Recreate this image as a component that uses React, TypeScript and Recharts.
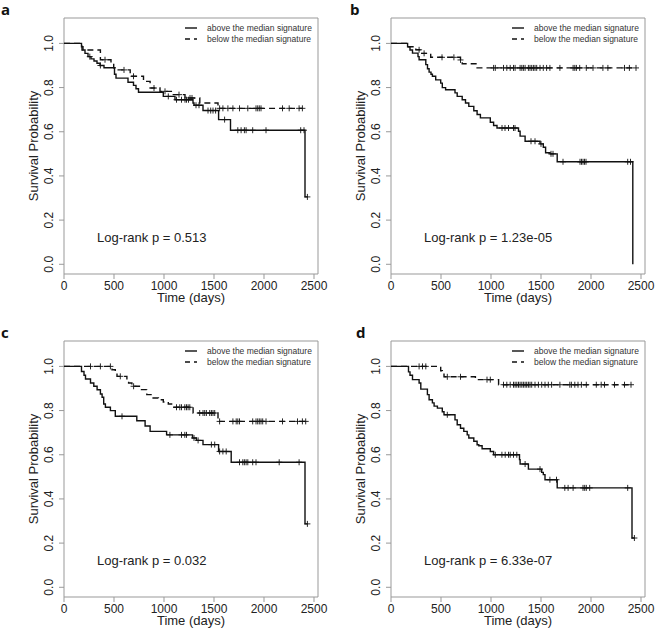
import React from 'react';
import { ComposedChart, Line, Scatter, XAxis, YAxis, ReferenceArea } from 'recharts';

const X_TICKS = [0, 500, 1000, 1500, 2000, 2500];
const Y_TICKS = [0, 0.2, 0.4, 0.6, 0.8, 1.0];
const LEGEND_LABELS = ['above the median signature', 'below the median signature'];
const PANEL_LETTERS = ['a', 'b', 'c', 'd'];
const P_VALUES = ['0.513', '1.23e-05', '0.032', '6.33e-07'];

// panel a
const aAboveTime = [0, 175, 190, 210, 240, 270, 300, 330, 360, 400, 505, 520, 640, 695, 720, 745, 993, 1110, 1290, 1300, 1390, 1546, 1665, 2410, 2434];
const aAboveSurv = [1, 0.985, 0.97, 0.955, 0.94, 0.93, 0.92, 0.91, 0.9, 0.89, 0.86, 0.843, 0.824, 0.81, 0.795, 0.779, 0.76, 0.745, 0.73, 0.72, 0.696, 0.655, 0.607, 0.305, 0.305];
const aAboveCens = [258, 364, 1043, 1125, 1175, 1210, 1225, 1245, 1320, 1350, 1440, 1467, 1490, 1516, 1606, 1738, 1771, 1804, 1821, 1887, 2020, 2367, 2400, 2434];
const aBelowTime = [0, 180, 364, 470, 497, 520, 662, 795, 861, 960, 1093, 1210, 1358, 1540, 2384];
const aBelowSurv = [1, 0.97, 0.926, 0.905, 0.89, 0.88, 0.851, 0.828, 0.798, 0.783, 0.768, 0.753, 0.73, 0.706, 0.706];
const aBelowCens = [410, 600, 695, 900, 1010, 1150, 1260, 1280, 1556, 1589, 1639, 1689, 1755, 1838, 1920, 1937, 1953, 1970, 2185, 2252, 2351, 2384];

// panel b
const bAboveTime = [0, 166, 190, 215, 270, 281, 348, 365, 381, 400, 414, 447, 497, 513, 546, 640, 662, 712, 745, 778, 828, 861, 894, 993, 1026, 1060, 1275, 1291, 1341, 1490, 1523, 1546, 1590, 1662, 2418];
const bAboveSurv = [1, 0.985, 0.97, 0.956, 0.94, 0.926, 0.904, 0.885, 0.87, 0.86, 0.851, 0.835, 0.82, 0.8, 0.79, 0.776, 0.76, 0.745, 0.73, 0.715, 0.695, 0.678, 0.663, 0.643, 0.628, 0.617, 0.602, 0.58, 0.557, 0.545, 0.53, 0.505, 0.5, 0.464, 0];
const bAboveCens = [1110, 1140, 1175, 1225, 1240, 1400, 1440, 1500, 1600, 1620, 1720, 1890, 1905, 1920, 1935, 1950, 2367, 2395];
const bBelowTime = [0, 166, 248, 300, 397, 695, 712, 861, 2450];
const bBelowSurv = [1, 0.985, 0.971, 0.955, 0.937, 0.925, 0.908, 0.889, 0.889];
const bBelowCens = [281, 331, 510, 629, 695, 1026, 1043, 1125, 1158, 1192, 1225, 1241, 1291, 1308, 1324, 1341, 1374, 1390, 1407, 1424, 1440, 1457, 1490, 1523, 1556, 1589, 1689, 1821, 1838, 1854, 1887, 1953, 2020, 2119, 2169, 2335, 2384, 2450];

// panel c
const cAboveTime = [0, 175, 200, 215, 265, 298, 331, 364, 381, 397, 414, 464, 513, 728, 811, 861, 1026, 1285, 1324, 1390, 1546, 1672, 2410, 2434];
const cAboveSurv = [1, 0.977, 0.96, 0.943, 0.925, 0.91, 0.894, 0.875, 0.86, 0.83, 0.815, 0.8, 0.774, 0.754, 0.73, 0.706, 0.69, 0.676, 0.665, 0.646, 0.615, 0.566, 0.287, 0.287];
const cAboveCens = [580, 1059, 1175, 1208, 1225, 1300, 1341, 1474, 1507, 1556, 1589, 1622, 1755, 1788, 1804, 1821, 1838, 1887, 1920, 2152, 2351, 2434];
const cBelowTime = [0, 480, 513, 530, 629, 646, 679, 762, 828, 878, 944, 993, 1043, 1076, 1291, 1540, 2417];
const cBelowSurv = [1, 0.985, 0.97, 0.955, 0.94, 0.925, 0.91, 0.895, 0.872, 0.857, 0.849, 0.839, 0.83, 0.815, 0.789, 0.751, 0.751];
const cBelowCens = [265, 364, 464, 563, 696, 1125, 1158, 1175, 1208, 1225, 1241, 1258, 1357, 1390, 1407, 1424, 1457, 1474, 1490, 1507, 1556, 1689, 1722, 1738, 1755, 1887, 1920, 1937, 1953, 1970, 1987, 2020, 2185, 2335, 2384, 2417];

// panel d
const dAboveTime = [0, 175, 190, 215, 281, 298, 364, 381, 414, 431, 464, 513, 530, 640, 662, 695, 728, 762, 778, 828, 861, 878, 911, 993, 1026, 1285, 1291, 1374, 1507, 1523, 1540, 1662, 2410, 2434];
const dAboveSurv = [1, 0.975, 0.96, 0.94, 0.925, 0.897, 0.872, 0.849, 0.835, 0.82, 0.811, 0.795, 0.781, 0.758, 0.736, 0.72, 0.706, 0.69, 0.676, 0.661, 0.645, 0.641, 0.627, 0.615, 0.6, 0.578, 0.558, 0.535, 0.52, 0.51, 0.487, 0.45, 0.223, 0.223];
const dAboveCens = [563, 1043, 1109, 1142, 1175, 1192, 1225, 1258, 1341, 1490, 1589, 1655, 1738, 1771, 1821, 1920, 1937, 1953, 1987, 2367, 2434];
const dBelowTime = [0, 497, 513, 530, 844, 1076, 2400];
const dBelowSurv = [1, 0.98, 0.97, 0.953, 0.94, 0.917, 0.917];
const dBelowCens = [281, 315, 348, 563, 695, 960, 993, 1125, 1158, 1192, 1225, 1241, 1258, 1275, 1291, 1308, 1324, 1341, 1357, 1374, 1390, 1407, 1440, 1474, 1507, 1540, 1573, 1606, 1689, 1788, 1804, 1838, 1870, 1904, 1953, 2053, 2102, 2135, 2235, 2335, 2400];

const FONT = '"Liberation Sans", Arial, sans-serif';
const W = 329;
const H = 318;
const PLOT_LEFT = 64;
const PLOT_TOP = 18;
const PLOT_RIGHT = 318;
const PLOT_BOTTOM = 274;

type Pt = { x: number; y: number };

const toSteps = (t: number[], s: number[]): Pt[] => t.map((x, i) => ({ x, y: s[i] }));

// survival value of the step curve at a given time
const survAt = (t: number[], s: number[], time: number) => {
  let v = s[0];
  for (let i = 0; i < t.length; i++) if (t[i] <= time) v = s[i];
  return v;
};

const censorPts = (t: number[], s: number[], c: number[]): Pt[] => c.map((x) => ({ x, y: survAt(t, s, x) }));

const Cross = (props: any) => {
  const { cx, cy } = props;
  if (cx == null || cy == null) return null;
  return (
    <g stroke="#111" strokeWidth={0.9}>
      <line x1={cx} x2={cx} y1={cy - 3} y2={cy + 3} />
      <line x1={cx - 3} x2={cx + 3} y1={cy} y2={cy} />
    </g>
  );
};

const YTick = (props: any) => {
  const { x, y, payload } = props;
  return (
    <text x={x} y={y} transform={`rotate(-90 ${x} ${y})`} textAnchor="middle" fontSize={12} fill="#222" fontFamily={FONT}>
      {Number(payload.value).toFixed(1)}
    </text>
  );
};

interface PanelProps {
  left: number;
  top: number;
  letter: string;
  letterX: number;
  pValue: string;
  aboveT: number[];
  aboveS: number[];
  aboveC: number[];
  belowT: number[];
  belowS: number[];
  belowC: number[];
}

const KmPanel = ({ left, top, letter, letterX, pValue, aboveT, aboveS, aboveC, belowT, belowS, belowC }: PanelProps) => {
  const above = toSteps(aboveT, aboveS);
  const below = toSteps(belowT, belowS);
  return (
    <div style={{ position: 'absolute', left, top, width: W, height: H }}>
      <ComposedChart width={W} height={H} margin={{ top: PLOT_TOP, right: W - PLOT_RIGHT, bottom: 0, left: 0 }}>
        <XAxis
          type="number"
          dataKey="x"
          domain={[0, 2540]}
          ticks={X_TICKS}
          allowDataOverflow
          height={H - PLOT_BOTTOM}
          axisLine={false}
          tickLine={{ stroke: '#999' }}
          tickSize={5}
          tickMargin={2}
          tick={{ fontSize: 12, fill: '#222', fontFamily: FONT }}
        />
        <YAxis
          type="number"
          dataKey="y"
          domain={[-0.044, 1.115]}
          ticks={Y_TICKS}
          allowDataOverflow
          width={PLOT_LEFT}
          axisLine={false}
          tickLine={{ stroke: '#999' }}
          tickSize={5}
          tickMargin={6}
          tick={<YTick />}
        />
        <ReferenceArea x1={0} x2={2540} y1={-0.044} y2={1.115} fill="none" stroke="#999" strokeWidth={1} />
        <Line data={below} dataKey="y" type="stepAfter" stroke="#111" strokeWidth={1.4} strokeDasharray="6 4" dot={false} activeDot={false} isAnimationActive={false} />
        <Line data={above} dataKey="y" type="stepAfter" stroke="#111" strokeWidth={1.4} dot={false} activeDot={false} isAnimationActive={false} />
        <Scatter data={censorPts(belowT, belowS, belowC)} dataKey="y" shape={<Cross />} isAnimationActive={false} />
        <Scatter data={censorPts(aboveT, aboveS, aboveC)} dataKey="y" shape={<Cross />} isAnimationActive={false} />
      </ComposedChart>
      <svg width={W} height={H} style={{ position: 'absolute', left: 0, top: 0, pointerEvents: 'none' }}>
        <text x={letterX} y={15} fontSize={15} fontWeight={700} fontFamily='"Open Sans", sans-serif' fill="#111">
          {letter}
        </text>
        <line x1={PLOT_LEFT + 121} x2={PLOT_LEFT + 133} y1={28} y2={28} stroke="#111" strokeWidth={1.4} />
        <line x1={PLOT_LEFT + 121} x2={PLOT_LEFT + 133} y1={39} y2={39} stroke="#111" strokeWidth={1.4} strokeDasharray="5 4" />
        <text x={PLOT_LEFT + 143} y={31} fontSize={8.5} fill="#333" fontFamily={FONT}>
          {LEGEND_LABELS[0]}
        </text>
        <text x={PLOT_LEFT + 143} y={42} fontSize={8.5} fill="#333" fontFamily={FONT}>
          {LEGEND_LABELS[1]}
        </text>
        <text x={97} y={242} fontSize={13} fill="#222" fontFamily={FONT}>
          {`Log-rank p = ${pValue}`}
        </text>
        <text x={(PLOT_LEFT + PLOT_RIGHT) / 2} y={302} fontSize={13} fill="#222" textAnchor="middle" fontFamily={FONT}>
          Time (days)
        </text>
        <text x={37.5} y={146} fontSize={13} fill="#222" textAnchor="middle" fontFamily={FONT} transform="rotate(-90 37.5 146)">
          Survival Probability
        </text>
      </svg>
    </div>
  );
};

export default function App() {
  return (
    <div style={{ position: 'absolute', left: 0, top: 0, width: 658, height: 635, background: '#fff' }}>
      <KmPanel left={0} top={0} letter={PANEL_LETTERS[0]} letterX={1} pValue={P_VALUES[0]}
        aboveT={aAboveTime} aboveS={aAboveSurv} aboveC={aAboveCens} belowT={aBelowTime} belowS={aBelowSurv} belowC={aBelowCens} />
      <KmPanel left={327} top={0} letter={PANEL_LETTERS[1]} letterX={23} pValue={P_VALUES[1]}
        aboveT={bAboveTime} aboveS={bAboveSurv} aboveC={bAboveCens} belowT={bBelowTime} belowS={bBelowSurv} belowC={bBelowCens} />
      <KmPanel left={0} top={323} letter={PANEL_LETTERS[2]} letterX={1} pValue={P_VALUES[2]}
        aboveT={cAboveTime} aboveS={cAboveSurv} aboveC={cAboveCens} belowT={cBelowTime} belowS={cBelowSurv} belowC={cBelowCens} />
      <KmPanel left={327} top={323} letter={PANEL_LETTERS[3]} letterX={29} pValue={P_VALUES[3]}
        aboveT={dAboveTime} aboveS={dAboveSurv} aboveC={dAboveCens} belowT={dBelowTime} belowS={dBelowSurv} belowC={dBelowCens} />
    </div>
  );
}
